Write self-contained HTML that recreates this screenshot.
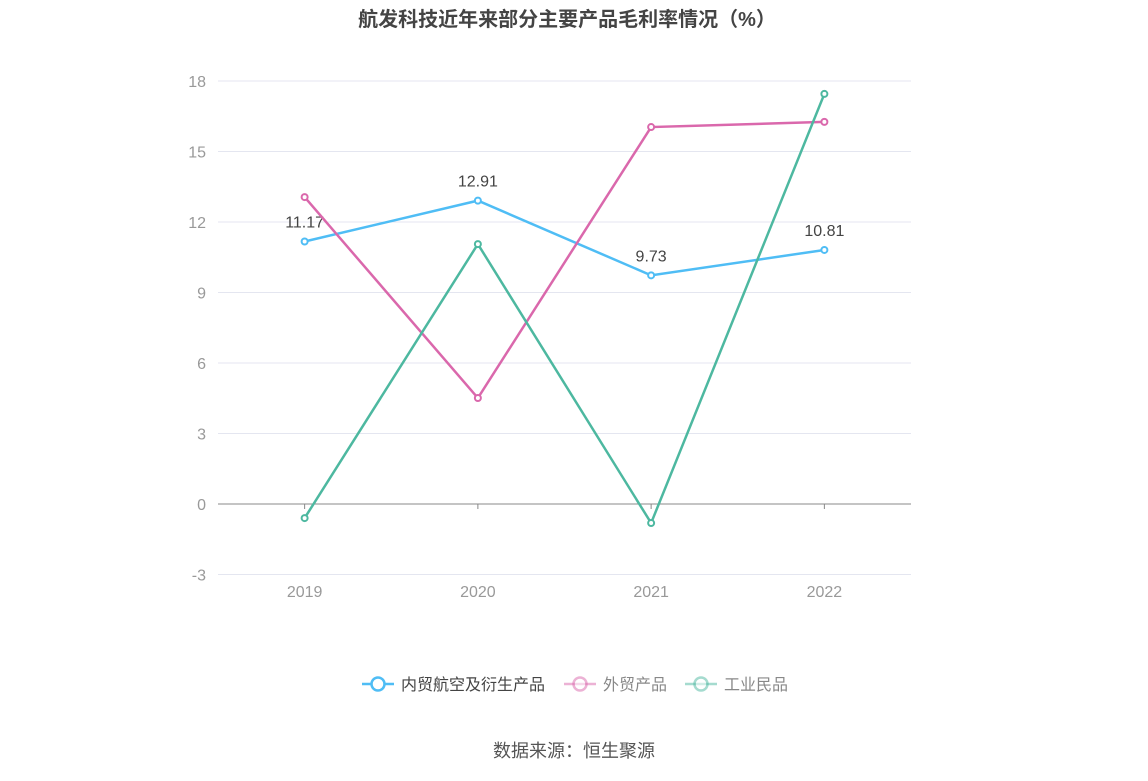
<!DOCTYPE html>
<html><head><meta charset="utf-8">
<style>
body{margin:0;background:#fff;font-family:"Liberation Sans","Noto Sans CJK SC",sans-serif;}
svg text{font-family:"Liberation Sans","Noto Sans CJK SC",sans-serif;}
</style></head>
<body>
<svg id="chart" width="1148" height="776">
<text x="567" y="26" text-anchor="middle" font-size="20" font-weight="bold" fill="#444">航发科技近年来部分主要产品毛利率情况（%）</text>
<g id="grid"></g>
<g id="series"></g>
<g id="legend"></g>
<text x="574" y="757" text-anchor="middle" font-size="18" fill="#555">数据来源：恒生聚源</text>
</svg>
<script>
const categories=["2019","2020","2021","2022"];
const yTicks=[-3,0,3,6,9,12,15,18];
const seriesNames=["内贸航空及衍生产品","外贸产品","工业民品"];
const domestic=[11.17,12.91,9.73,10.81];
const exportP=[13.06,4.51,16.04,16.26];
const industrial=[-0.6,11.06,-0.81,17.45];
const colors=["#4fbdf5","#da68ac","#4db8a0"];
const ns="http://www.w3.org/2000/svg";
const svg=document.getElementById('chart');
const left=218,right=911;
function y(v){return 504-(v)*23.5;}
function x(i){return left+(right-left)/categories.length*(i+0.5);}
function mk(tag,attrs,parent){const e=document.createElementNS(ns,tag);for(const k in attrs)e.setAttribute(k,attrs[k]);parent.appendChild(e);return e;}
const grid=document.getElementById('grid');
yTicks.forEach(t=>{
  const l=mk('line',{x1:left,x2:right,y1:y(t),y2:y(t),stroke:t===0?'#888':'#e4e6f0','stroke-width':1},grid);
  
  
  const tx=mk('text',{x:206,y:y(t)+6,'text-anchor':'end','font-size':16,fill:'#999'},grid);
  tx.textContent=t;
  
  
});
categories.forEach((c,i)=>{
  const tk=mk('line',{x1:x(i),x2:x(i),y1:504,y2:509,stroke:'#888'},grid);
  
  
  const tx=mk('text',{x:x(i),y:597,'text-anchor':'middle','font-size':16,fill:'#999'},grid);
  tx.textContent=c;
  
  
});
const sg=document.getElementById('series');
[domestic,exportP,industrial].forEach((d,s)=>{
  const p=mk('polyline',{points:d.map((v,i)=>x(i)+','+y(v)).join(' '),fill:'none',stroke:colors[s],'stroke-width':2.5},sg);
  
  
  d.forEach((v,i)=>{
    const c=mk('circle',{cx:x(i),cy:y(v),r:3,fill:'#fff',stroke:colors[s],'stroke-width':2},sg);
    
    
    if(s===0){
      const t=mk('text',{x:x(i),y:y(v)-14,'text-anchor':'middle','font-size':16,fill:'#444'},sg);
      t.textContent=v.toFixed(2);
      
      
    }
  });
});
const lg=document.getElementById('legend');
const lx=[362,564,685];
seriesNames.forEach((n,s)=>{
  const g=mk('g',{},lg);
  
  
  const op=s===0?1:0.5;
  mk('line',{x1:lx[s],x2:lx[s]+32,y1:684,y2:684,stroke:colors[s],'stroke-width':2.5,opacity:op},g);
  mk('circle',{cx:lx[s]+16,cy:684,r:6.5,fill:'#fff',stroke:colors[s],'stroke-width':2.5,opacity:op},g);
  const t=mk('text',{x:lx[s]+39,y:690,'font-size':16,fill:s===0?'#444':'#888'},g);
  t.textContent=n;
});
</script>
</body></html>
